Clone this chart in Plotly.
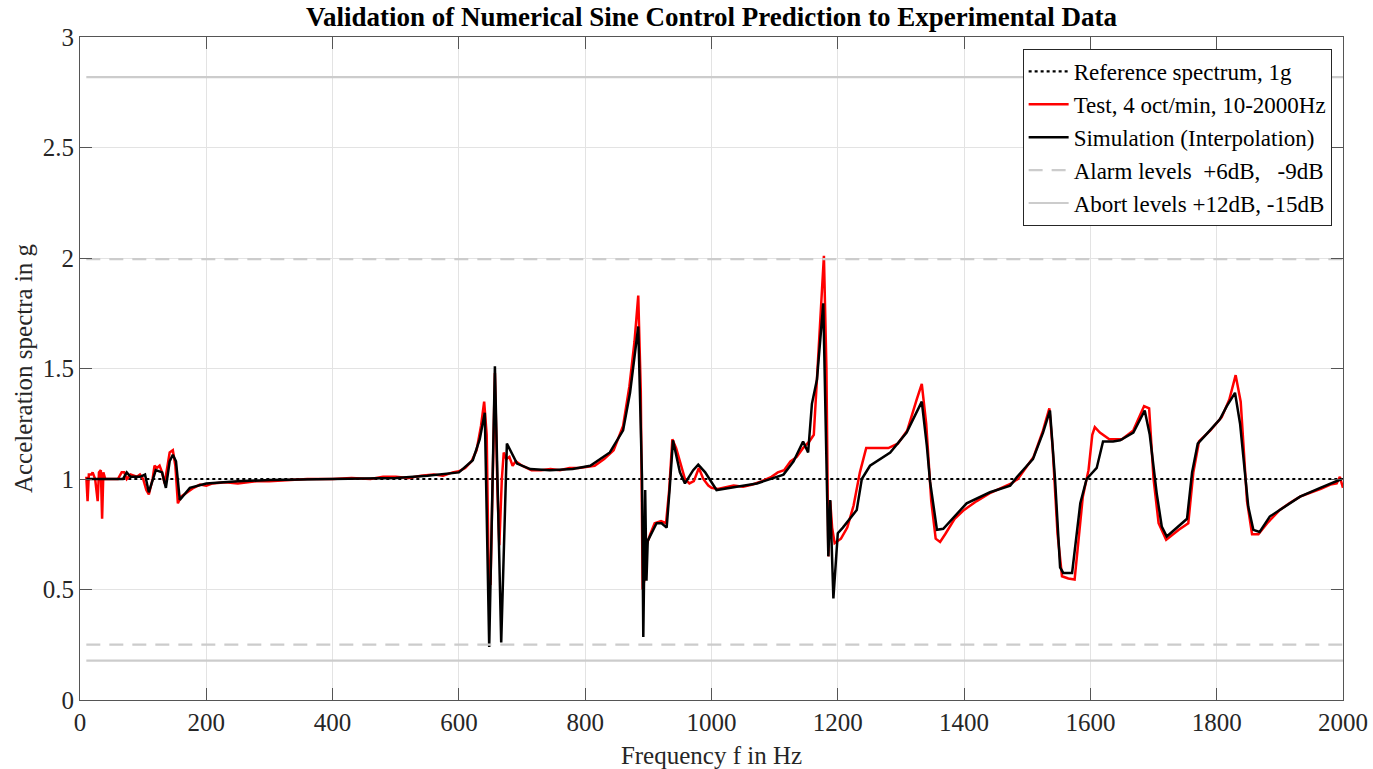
import plotly.graph_objects as go

# ---------------- data ----------------
ref_freq = [10, 2000]
ref_acc = [1.0, 1.0]

alarm_freq = [10, 2000, None, 10, 2000]
alarm_acc = [1.995, 1.995, None, 0.251, 0.251]
abort_freq = [10, 2000, None, 10, 2000]
abort_acc = [2.818, 2.818, None, 0.178, 0.178]

test_freq = [10, 12, 14, 18, 20, 24, 28, 30, 33, 35,
             37, 40, 50, 60, 66, 70, 74, 80, 90, 95,
             100, 105, 109, 115, 118, 122, 126, 130, 134, 138,
             142, 147, 151, 155, 160, 170, 180, 190, 200, 210,
             230, 250, 280, 300, 330, 360, 400, 430, 460, 480,
             500, 520, 540, 560, 575, 590, 600, 610, 620, 628,
             635, 640, 644, 647, 650, 652, 657, 661, 664, 668,
             671, 675, 680, 685, 690, 700, 715, 730, 745, 760,
             775, 790, 800, 815, 830, 845, 860, 870, 878, 884,
             888, 891, 894, 897, 903, 910, 920, 928, 933, 938,
             944, 950, 958, 965, 972, 980, 987, 995, 1000, 1010,
             1020, 1035, 1050, 1065, 1080, 1095, 1105, 1115, 1125, 1135,
             1145, 1155, 1162, 1168, 1172, 1178, 1182, 1185, 1188, 1191,
             1195, 1205, 1215, 1225, 1235, 1245, 1255, 1265, 1280, 1295,
             1310, 1325, 1333, 1340, 1348, 1355, 1362, 1370, 1385, 1400,
             1420, 1440, 1460, 1475, 1485, 1495, 1510, 1525, 1535, 1540,
             1548, 1555, 1565, 1575, 1580, 1588, 1597, 1603, 1607, 1615,
             1630, 1650, 1668, 1685, 1693, 1700, 1708, 1720, 1740, 1755,
             1763, 1772, 1790, 1808, 1820, 1830, 1838, 1848, 1856, 1866,
             1880, 1900, 1915, 1932, 1950, 1965, 1980, 1990, 1995, 2000]
test_acc = [1.01, 0.90, 1.02, 1.02, 1.03, 1.00, 0.90, 1.03, 1.04, 0.82,
            1.03, 1.00, 1.00, 1.00, 1.03, 1.03, 1.00, 1.02, 1.01, 1.02,
            1.00, 0.95, 0.93, 1.00, 1.06, 1.05, 1.06, 1.03, 0.98, 1.05,
            1.12, 1.13, 1.06, 0.89, 0.92, 0.94, 0.96, 0.975, 0.97, 0.98,
            0.985, 0.98, 0.99, 0.99, 0.995, 1.00, 1.00, 1.005, 1.00, 1.01,
            1.01, 1.005, 1.015, 1.02, 1.015, 1.03, 1.035, 1.05, 1.08, 1.13,
            1.24, 1.35, 1.20, 0.60, 0.52, 0.80, 1.48, 0.95, 0.70, 1.00,
            1.12, 1.09, 1.10, 1.06, 1.08, 1.06, 1.04, 1.04, 1.045, 1.04,
            1.05, 1.05, 1.055, 1.06, 1.09, 1.13, 1.24, 1.42, 1.62, 1.83,
            1.40, 0.50, 0.55, 0.70, 0.75, 0.80, 0.81, 0.80, 0.95, 1.18,
            1.14, 1.08, 1.00, 0.98, 0.99, 1.05, 1.00, 0.97, 0.96, 0.955,
            0.96, 0.97, 0.965, 0.975, 0.99, 1.01, 1.03, 1.04, 1.08, 1.10,
            1.14, 1.17, 1.20, 1.50, 1.75, 2.01, 1.50, 0.65, 0.90, 0.78,
            0.71, 0.73, 0.78, 0.88, 1.03, 1.14, 1.14, 1.14, 1.14, 1.16,
            1.22, 1.36, 1.43, 1.25, 0.90, 0.73, 0.715, 0.75, 0.82, 0.86,
            0.90, 0.935, 0.96, 0.98, 1.00, 1.04, 1.10, 1.22, 1.32, 1.15,
            0.75, 0.56, 0.55, 0.545, 0.70, 0.92, 1.04, 1.20, 1.235, 1.21,
            1.18, 1.18, 1.22, 1.33, 1.32, 1.00, 0.80, 0.725, 0.77, 0.80,
            1.03, 1.17, 1.22, 1.28, 1.36, 1.47, 1.35, 0.90, 0.75, 0.75,
            0.80, 0.86, 0.89, 0.92, 0.94, 0.955, 0.975, 0.98, 1.01, 0.96]

sim_freq = [10, 60, 68, 74, 80, 95, 103, 109, 120, 130,
            136, 142, 147, 152, 158, 174, 200, 250, 300, 400,
            500, 550, 600, 622, 633, 641, 648, 657, 667, 676,
            692, 713, 744, 780, 808, 839, 860, 871, 879, 884,
            890, 892, 895, 897, 899, 913, 921, 929, 934, 939,
            950, 958, 971, 979, 990, 1008, 1040, 1072, 1114, 1130,
            1145, 1153, 1159, 1167, 1177, 1185, 1188, 1193, 1200, 1208,
            1230, 1238, 1251, 1283, 1309, 1325, 1333, 1341, 1346, 1357,
            1367, 1404, 1441, 1473, 1484, 1509, 1525, 1536, 1544, 1552,
            1557, 1571, 1576, 1584, 1594, 1610, 1620, 1636, 1647, 1668,
            1686, 1694, 1705, 1713, 1721, 1753, 1761, 1770, 1786, 1805,
            1816, 1829, 1837, 1850, 1858, 1868, 1884, 1900, 1932, 1964,
            1998]
sim_acc = [1.00, 1.00, 1.00, 1.03, 1.01, 1.01, 1.02, 0.94, 1.04, 1.03,
           0.96, 1.08, 1.11, 1.08, 0.905, 0.96, 0.98, 0.99, 0.995, 1.00,
           1.005, 1.015, 1.03, 1.085, 1.18, 1.30, 0.24, 1.51, 0.26, 1.16,
           1.07, 1.045, 1.04, 1.045, 1.06, 1.12, 1.22, 1.39, 1.57, 1.69,
           1.00, 0.285, 0.95, 0.54, 0.72, 0.80, 0.80, 0.78, 0.965, 1.175,
           1.03, 0.98, 1.04, 1.065, 1.03, 0.95, 0.965, 0.98, 1.02, 1.08,
           1.17, 1.12, 1.34, 1.45, 1.795, 0.65, 0.905, 0.46, 0.755, 0.78,
           0.86, 1.00, 1.06, 1.12, 1.21, 1.30, 1.35, 1.15, 0.99, 0.77,
           0.775, 0.89, 0.94, 0.97, 1.01, 1.09, 1.21, 1.31, 1.00, 0.60,
           0.575, 0.575, 0.70, 0.89, 1.00, 1.05, 1.17, 1.17, 1.175, 1.21,
           1.31, 1.20, 0.935, 0.785, 0.74, 0.82, 1.03, 1.16, 1.21, 1.27,
           1.33, 1.39, 1.25, 0.875, 0.77, 0.76, 0.83, 0.86, 0.92, 0.96,
           1.00]

x_ticks = [0, 200, 400, 600, 800, 1000, 1200, 1400, 1600, 1800, 2000]
y_ticks = [0, 0.5, 1, 1.5, 2, 2.5, 3]
y_tick_labels = ["0", "0.5", "1", "1.5", "2", "2.5", "3"]

# ---------------- figure ----------------
FONT = "Liberation Serif"
fig = go.Figure()

fig.add_trace(go.Scatter(x=ref_freq, y=ref_acc, mode="lines",
                         name="Reference spectrum, 1g",
                         line=dict(color="black", width=2.2, dash="dot")))
fig.add_trace(go.Scatter(x=test_freq, y=test_acc, mode="lines",
                         name="Test, 4 oct/min, 10-2000Hz",
                         line=dict(color="#ff0000", width=2.5)))
fig.add_trace(go.Scatter(x=sim_freq, y=sim_acc, mode="lines",
                         name="Simulation (Interpolation)",
                         line=dict(color="black", width=2.5)))
fig.add_trace(go.Scatter(x=alarm_freq, y=alarm_acc, mode="lines",
                         name="Alarm levels  +6dB,   -9dB",
                         line=dict(color="#cccccc", width=2.2, dash="14px,9px")))
fig.add_trace(go.Scatter(x=abort_freq, y=abort_acc, mode="lines",
                         name="Abort levels +12dB, -15dB",
                         line=dict(color="#cccccc", width=2.2)))

axis_common = dict(showline=True, linecolor="#555555", linewidth=1, mirror="ticks",
                   ticks="inside", ticklen=12, tickcolor="#555555",
                   showgrid=True, gridcolor="#e3e3e3", gridwidth=1,
                   zeroline=False, automargin=False,
                   tickfont=dict(family=FONT, size=25, color="#262626"))

fig.update_xaxes(range=[0, 2000], tickvals=x_ticks,
                 title=dict(text="Frequency f in Hz", font=dict(family=FONT, size=25, color="#262626"),
                            standoff=11),
                 **axis_common)
fig.update_yaxes(range=[0, 3], tickvals=y_ticks, ticktext=y_tick_labels,
                 title=dict(text="Acceleration spectra in g", font=dict(family=FONT, size=25, color="#262626"),
                            standoff=3),
                 **axis_common)

fig.update_layout(
    width=1373, height=769,
    margin=dict(l=80, r=30, t=37, b=69),
    plot_bgcolor="white", paper_bgcolor="white",
    title=dict(text="<b>Validation of Numerical Sine Control Prediction to Experimental Data</b>",
               font=dict(family=FONT, size=27, color="black"),
               x=0.5, xanchor="center", xref="paper", y=0.978, yanchor="middle"),
    legend=dict(x=0.991, y=0.982, xanchor="right", yanchor="top",
                bgcolor="white", bordercolor="#262626", borderwidth=1,
                font=dict(family=FONT, size=23, color="black"),
                tracegroupgap=0, itemwidth=40),
    showlegend=True,
)

fig.write_html("out.html",
               config={"displayModeBar": False},
               post_script="document.body.style.margin='0';document.body.style.overflow='hidden';")
